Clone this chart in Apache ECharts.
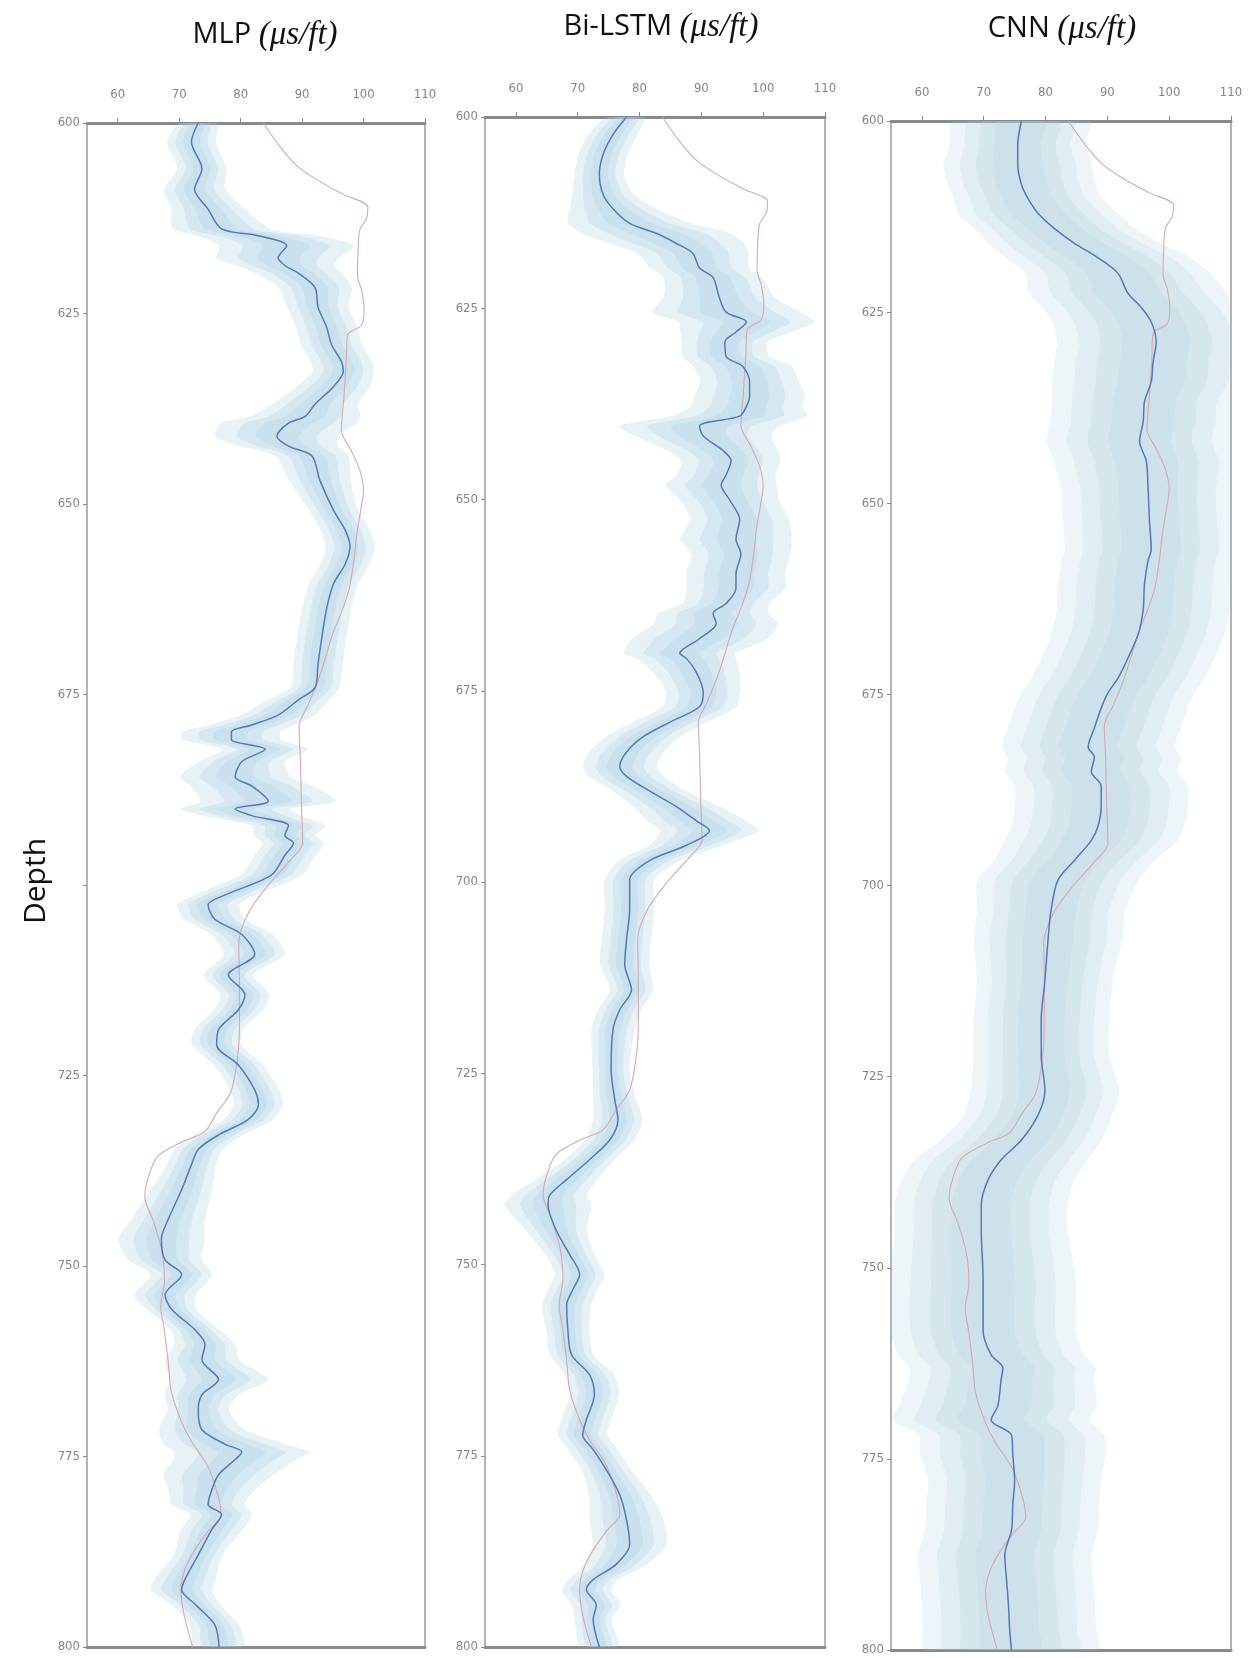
<!DOCTYPE html>
<html>
<head>
<meta charset="utf-8">
<script src="https://cdn.jsdelivr.net/npm/echarts@6/dist/echarts.min.js"></script>
<style>
  html, body { margin: 0; padding: 0; background: #fff; }
  #chart { width: 1249px; height: 1658px; }
</style>
</head>
<body>
<div id="chart"></div>
<script>
// 实测声波曲线 (三个面板共用)
const trueDepth = [600, 603, 605.5, 607.5, 609.4, 611, 612.5, 614, 617, 620, 622, 624.5, 626.5, 627.8, 631, 636, 640.4, 643, 645.6, 648.2, 651, 654, 657.5, 661, 664, 667, 670.2, 673.4, 676.5, 679.2, 683, 689.5, 694.5, 697, 700, 703.6, 707.5, 712.8, 718, 722.6, 727.2, 729.8, 732.4, 733.7, 735.6, 738.3, 740.9, 744.1, 748.1, 752, 755.3, 758.5, 762.4, 766.4, 770.3, 772.9, 776.2, 780.1, 782.7, 784.7, 787.3, 789.9, 792.5, 795.8, 800]
const trueVal = [83.7, 86.3, 89.0, 92.5, 96.8, 100.7, 100.5, 99.4, 99.1, 99.0, 99.7, 100.1, 99.7, 97.4, 97.2, 96.8, 96.4, 98.0, 99.4, 100.0, 99.5, 98.9, 98.4, 97.7, 96.5, 95.0, 93.8, 92.5, 90.9, 89.5, 89.7, 89.9, 90.1, 87.8, 84.5, 81.3, 79.7, 79.8, 79.8, 79.5, 78.4, 76.2, 74.1, 70.5, 66.5, 65.0, 64.4, 65.8, 67.2, 67.6, 67.0, 67.6, 68.2, 68.7, 70.3, 71.9, 74.6, 76.3, 76.8, 74.8, 72.5, 70.9, 70.3, 70.8, 72.2]

// MLP 预测均值与不确定性宽度
const mlpDepth = [600, 602.5, 606, 608.7, 611.3, 613.9, 614.8, 616.1, 617.7, 618.7, 619.7, 621.6, 624.2, 626.8, 629.1, 631.3, 632.6, 634.6, 636.9, 638.5, 639.4, 641.1, 642.4, 643.7, 646.9, 650.8, 653.4, 655.6, 657.9, 660.5, 663.7, 667.6, 670.9, 674.1, 675.7, 677.7, 679, 679.9, 680.9, 682.2, 683.8, 685.8, 687, 689, 690, 690.9, 692.2, 693.5, 694.5, 696.1, 698.7, 701.3, 702.6, 704.5, 706.5, 709.1, 711.8, 714.4, 716.4, 719, 721, 723.6, 726.9, 728.8, 730.8, 732.8, 734.7, 736.7, 740, 743.9, 746.5, 749.2, 751.1, 753.8, 755.7, 758.4, 760.3, 762.3, 764.9, 766.9, 768.9, 771.5, 773.4, 774.4, 775.4, 777.4, 779.4, 781.3, 782.6, 784.6, 787.9, 791.2, 792.5, 794.4, 797.1, 800]
const mlpMean = [73.1, 72.0, 73.7, 72.5, 74.7, 76.9, 82.9, 87.5, 86.1, 87.2, 89.4, 92.1, 92.6, 94.0, 94.8, 96.4, 96.7, 95.1, 92.1, 90.5, 87.8, 85.9, 87.8, 91.6, 92.9, 95.1, 97.0, 97.8, 97.0, 95.1, 94.0, 93.2, 92.6, 92.1, 89.4, 86.1, 81.8, 78.5, 78.5, 84.0, 80.2, 79.1, 81.8, 84.5, 79.1, 81.8, 87.8, 87.2, 88.6, 87.2, 85.0, 77.5, 74.7, 75.8, 80.2, 82.3, 78.0, 80.7, 79.6, 76.4, 76.1, 79.6, 82.3, 82.9, 81.2, 76.4, 73.1, 72.0, 70.4, 68.2, 67.1, 67.7, 70.4, 67.7, 68.8, 72.6, 74.2, 73.7, 76.4, 73.7, 73.1, 73.7, 77.5, 80.2, 79.1, 76.4, 75.3, 74.7, 76.9, 75.3, 73.1, 70.9, 70.4, 72.6, 75.8, 76.5]
const mlpSpread = [3, 4, 4, 5, 6, 8, 10, 11, 10, 8, 7, 6, 5, 5, 5, 5, 5, 6, 7, 9, 11, 10, 8, 6, 5, 4, 4, 4, 4, 4, 4, 4, 4, 4, 5, 6, 7, 8, 8, 7, 7, 9, 10, 11, 9, 8, 6, 5, 5, 5, 5, 5, 5, 5, 5, 5, 4, 4, 4, 4, 4, 4, 4, 4, 4, 4, 4, 4, 5, 6, 7, 6, 5, 5, 4, 4, 5, 6, 8, 6, 5, 7, 10, 11, 10, 9, 7, 6, 5, 5, 4, 5, 5, 4, 4, 4]

// Bi-LSTM
const lstmDepth = [600, 602.3, 604.9, 607.5, 610.1, 612, 613.9, 615.2, 616.5, 617.8, 619.7, 621, 623.6, 625.5, 626.8, 628.1, 629.4, 631.3, 632.6, 634.6, 636.5, 637.8, 639.1, 640.4, 641.7, 643.6, 644.9, 646.8, 648.1, 650.1, 652.6, 655.2, 657.1, 659.7, 661.6, 663.6, 664.9, 666.2, 668.2, 670.1, 670.8, 672.6, 675.2, 677.1, 679.1, 681, 683, 684.9, 686.2, 688.1, 690.1, 692, 693.3, 695.2, 697.2, 699.7, 703.6, 707.5, 710.8, 714.1, 716.7, 719.3, 724.5, 728.5, 731.1, 733.7, 736.3, 738.9, 740.9, 742.2, 745.5, 748.7, 751.3, 753.3, 755.3, 758.5, 761.8, 764.4, 767, 770.3, 772.3, 774.2, 776.8, 780.1, 783.4, 786.6, 789.2, 791.2, 792.5, 794.5, 796.4, 800]
const lstmMean = [77.9, 75.7, 74.1, 73.5, 74.1, 75.7, 78.4, 82.7, 85.9, 88.6, 89.7, 91.9, 92.9, 94.0, 97.3, 95.6, 93.8, 94.0, 96.7, 97.8, 97.8, 97.3, 96.2, 89.7, 90.3, 93.5, 94.8, 94.0, 93.2, 94.6, 96.2, 95.6, 96.4, 95.6, 95.6, 94.0, 91.9, 92.4, 89.7, 86.5, 87.6, 89.2, 90.3, 89.7, 84.9, 80.6, 77.9, 76.8, 77.9, 81.6, 85.9, 89.2, 91.3, 87.6, 81.6, 78.4, 78.4, 77.9, 77.6, 78.7, 76.8, 75.7, 75.4, 76.0, 76.5, 75.2, 71.9, 68.2, 65.5, 65.2, 66.5, 68.7, 70.3, 69.2, 68.2, 68.4, 69.0, 71.9, 72.7, 71.4, 70.8, 72.5, 74.6, 76.8, 77.9, 78.4, 76.2, 72.5, 71.4, 73.0, 72.5, 73.5]
const lstmSpread = [3, 4, 4, 4, 5, 7, 10, 12, 11, 9, 8, 8, 9, 12, 11, 9, 7, 7, 8, 8, 9, 9, 11, 13, 11, 9, 8, 8, 9, 8, 8, 9, 8, 8, 8, 7, 9, 10, 11, 9, 8, 7, 6, 6, 6, 6, 6, 6, 6, 6, 7, 8, 8, 6, 5, 4, 4, 4, 4, 3.5, 3.5, 3.5, 3, 3.5, 4, 4, 4, 5, 6, 7, 5, 4, 4, 4, 4, 3.5, 3.5, 4, 4, 4, 4, 4, 4, 5, 6, 6, 5, 4, 4, 4, 3, 3]

// CNN
const cnnDepth = [600, 603.1, 605.7, 608.3, 610.2, 612.1, 614.1, 616, 617.9, 619.9, 622.5, 624.4, 626.3, 628.9, 631.5, 634.1, 636.7, 639.3, 641.9, 644.5, 648.3, 652.2, 656.1, 657.4, 660.6, 663.9, 667.1, 670.3, 672.9, 674.8, 676.8, 679.4, 681.9, 683.2, 685.1, 687, 689.6, 692.2, 694.1, 696.7, 699.3, 703.2, 707.1, 712.4, 717.6, 722.2, 726.8, 730, 733.3, 735.9, 738.5, 741.8, 745.1, 751.6, 758.2, 761.4, 763.1, 764.7, 768, 769.9, 771.9, 774.5, 777.8, 781, 784.3, 787.6, 790.9, 794.1, 797.4, 800]
const cnnMean = [76.1, 75.5, 75.5, 76.1, 77.2, 78.8, 81.5, 84.7, 88.5, 91.7, 93.3, 95.5, 97.1, 97.9, 97.4, 97.1, 96.0, 95.8, 95.2, 96.3, 96.6, 96.8, 97.1, 96.6, 96.0, 95.8, 95.0, 93.3, 91.7, 90.1, 89.0, 87.9, 86.9, 87.9, 87.4, 89.0, 89.0, 88.5, 87.4, 84.7, 82.0, 80.9, 80.4, 79.9, 79.3, 79.3, 79.9, 78.8, 76.1, 72.8, 70.7, 69.6, 69.6, 69.9, 69.9, 71.2, 73.1, 72.8, 72.3, 71.2, 74.5, 74.7, 75.0, 74.7, 74.5, 73.4, 73.7, 74.0, 74.2, 74.5]
const cnnSpread = [11, 11, 12, 12, 12, 13, 13, 14, 15, 15, 16, 16, 16, 16, 16, 16, 15, 15, 15, 15, 14, 14, 14, 14, 14, 14, 14, 14, 14, 14, 14, 14, 14, 14, 14, 14, 14, 14, 14, 13, 13, 12, 12, 11, 11, 11, 12, 12, 13, 14, 14, 14, 14, 15, 15, 15, 15, 15, 16, 16, 15, 15, 14, 14, 14, 14, 14, 14, 14, 14]

const xTicks = [60, 70, 80, 90, 100, 110]
const panelTitles = ['MLP', 'Bi-LSTM', 'CNN']

const chart = echarts.init(document.getElementById('chart'))

// 面板位置
const grids = [
  { left: 87, top: 123, width: 338, height: 1524 },
  { left: 485, top: 117, width: 340, height: 1530 },
  { left: 891, top: 121, width: 340, height: 1529 }
]

const labelFont = {
  color: '#858585',
  fontSize: 13,
  fontFamily: '"DejaVu Sans Condensed", "Liberation Sans Narrow", "DejaVu Sans", sans-serif'
}

const xAxes = []
const yAxes = []
grids.forEach((g, i) => {
  xAxes.push({
    type: 'value', gridIndex: i, position: 'top', min: 55, max: 110,
    axisLine: { show: true, lineStyle: { color: '#8a8a8a', width: 3 } },
    axisTick: { show: true, length: 5, lineStyle: { color: '#8a8a8a' }, customValues: xTicks },
    axisLabel: { ...labelFont, margin: 22, customValues: xTicks },
    splitLine: { show: false }
  })
  xAxes.push({
    type: 'value', gridIndex: i, position: 'bottom', min: 55, max: 110,
    axisLine: { show: true, lineStyle: { color: '#8a8a8a', width: 3 } },
    axisTick: { show: false }, axisLabel: { show: false }, splitLine: { show: false }
  })
  yAxes.push({
    type: 'value', gridIndex: i, inverse: true, min: 600, max: 800, interval: 25,
    axisLine: { show: false },
    axisTick: { show: true, length: 4, lineStyle: { color: '#8a8a8a' } },
    axisLabel: {
      ...labelFont, margin: 7,
      // MLP 面板没有 700 标签
      formatter: v => (i === 0 && v === 700) ? '' : String(v)
    },
    splitLine: { show: false }
  })
})

// 不确定性带: 多层叠加
const bandSeries = (idx, depth, mean, spread, levels, color) => ({
  type: 'custom',
  xAxisIndex: idx * 2,
  yAxisIndex: idx,
  silent: true,
  clip: true,
  z: 1,
  data: levels.map(f => [f, 700]),
  renderItem: (params, api) => {
    const f = levels[params.dataIndex]
    const left = depth.map((d, k) => api.coord([mean[k] - f * spread[k], d]))
    const right = depth.map((d, k) => api.coord([mean[k] + f * spread[k], d])).reverse()
    return {
      type: 'polygon',
      shape: { points: left.concat(right), smooth: 0.25 },
      style: { fill: color }
    }
  }
})

const lineSeries = (idx, depth, vals, color, width, z) => ({
  type: 'line',
  xAxisIndex: idx * 2,
  yAxisIndex: idx,
  data: depth.map((d, k) => [vals[k], d]),
  showSymbol: false,
  smooth: 0.3,
  silent: true,
  z: z,
  lineStyle: { color: color, width: width }
})

const panels = [
  [mlpDepth, mlpMean, mlpSpread, [1, 0.65, 0.35], 'rgba(170, 208, 226, 0.28)'],
  [lstmDepth, lstmMean, lstmSpread, [1, 0.65, 0.35], 'rgba(170, 208, 226, 0.28)'],
  [cnnDepth, cnnMean, cnnSpread, [1, 0.78, 0.56, 0.34], 'rgba(168, 206, 221, 0.2)']
]

const series = []
panels.forEach((p, i) => {
  series.push(bandSeries(i, p[0], p[1], p[2], p[3], p[4]))
  series.push(lineSeries(i, trueDepth, trueVal, '#dba6ae', 1.1, 3))
  series.push(lineSeries(i, p[0], p[1], '#5677bb', 1.5, 4))
})

// 标题
const titlePos = [[265, 35], [661, 27], [1062, 29]]
const graphic = panelTitles.map((t, i) => ({
  type: 'text',
  x: titlePos[i][0],
  y: titlePos[i][1],
  style: {
    text: '{a|' + t + ' }{b|(μs/ft)}',
    align: 'center',
    verticalAlign: 'middle',
    rich: {
      a: { fontSize: 29, fontFamily: '"Open Sans", "Noto Sans", sans-serif', fill: '#111' },
      b: { fontSize: 33, fontFamily: '"Liberation Serif", "DejaVu Serif", serif', fontStyle: 'italic', fill: '#111' }
    }
  }
}))
graphic.push({
  type: 'text',
  x: 36,
  y: 881,
  rotation: Math.PI / 2,
  style: {
    text: 'Depth',
    align: 'center',
    verticalAlign: 'middle',
    fontSize: 30,
    fontFamily: '"Open Sans", "Noto Sans", sans-serif',
    fill: '#111'
  }
})

chart.setOption({
  animation: false,
  backgroundColor: '#fff',
  grid: grids.map(g => ({ ...g, show: true, borderColor: '#9a9a9a', borderWidth: 1.5, backgroundColor: 'transparent' })),
  xAxis: xAxes,
  yAxis: yAxes,
  series: series,
  graphic: graphic
})
</script>
</body>
</html>
